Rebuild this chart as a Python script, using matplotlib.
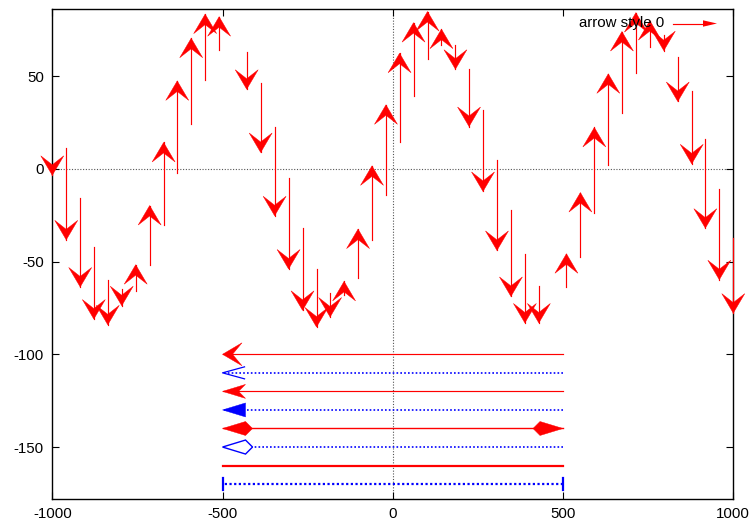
import numpy as np
import matplotlib
matplotlib.use("Agg")
import matplotlib.pyplot as plt
from matplotlib.patches import Polygon
from matplotlib.transforms import IdentityTransform

plt.rcParams["font.family"] = ["Liberation Sans", "DejaVu Sans"]
plt.rcParams["axes.unicode_minus"] = False

# vectors: x position, start (tail) and end (tip) of each arrow
x_pos = [-1000, -959, -918, -878, -837, -796, -755, -714, -673, -633,
         -592, -551, -510, -429, -388, -347, -306, -265, -224, -184,
         -143, -102, -61, -20, 20, 61, 102, 143, 184, 224,
         265, 306, 347, 388, 429, 510, 551, 592, 633, 673,
         714, 755, 796, 837, 878, 918, 959, 1000]
y_tail = [1.0, 11.2, -15.8, -41.9, -59.8, -65.0, -66.1, -51.7, -30.2, -2.0,
          24.2, 48.0, 64.1, 63.2, 46.2, 22.3, -5.0, -32.0, -53.9, -67.0,
          -67.9, -58.9, -38.6, -14.0, 14.2, 39.0, 59.1, 67.0, 66.8, 53.7,
          31.8, 4.8, -22.1, -46.0, -63.0, -63.7, -47.6, -23.9, 2.2, 30.0,
          51.9, 65.9, 72.0, 60.2, 42.2, 16.0, -10.9, -37.3]
y_tip = [-3.5, -38.3, -63.7, -81.0, -84.1, -73.8, -51.7, -19.8, 14.2, 47.4,
         70.4, 83.4, 82.0, 42.9, 8.8, -25.3, -54.0, -76.3, -85.3, -79.9,
         -60.7, -32.5, 1.6, 34.5, 62.3, 78.8, 84.8, 75.3, 53.7, 22.8,
         -12.2, -44.0, -68.8, -83.1, -83.1, -45.8, -12.8, 22.3, 51.2, 74.0,
         84.2, 79.9, 63.7, 36.3, 2.7, -32.0, -59.8, -77.8]

# the eight arrow styles drawn along the bottom
style_y = [-100, -110, -120, -130, -140, -150, -160, -170]
style_x0 = 500
style_x1 = -500

x_ticks = [-1000, -500, 0, 500, 1000]
y_ticks = [-150, -100, -50, 0, 50]

RED = "#ff0000"
BLUE = "#0000ff"


def head(ax, p0, p1, length, width, notch, **kw):
    # arrow head polygon in pixels, tip at p1
    a = ax.transData.transform(p0)
    b = ax.transData.transform(p1)
    d = b - a
    u = d / np.hypot(*d)
    n = np.array([-u[1], u[0]])
    pts = np.array([b, b - length * u + width * n, b - notch * u,
                    b - length * u - width * n])
    ax.add_patch(Polygon(pts, closed=True, transform=IdentityTransform(),
                         clip_on=False, zorder=4, **kw))


def bar(ax, p, half, **kw):
    c = ax.transData.transform(p)
    ax.plot([c[0], c[0]], [c[1] - half, c[1] + half],
            transform=IdentityTransform(), clip_on=False, zorder=4, **kw)


fig = plt.figure(figsize=(7.49, 5.22), dpi=100)
ax = fig.add_axes([0.0698, 0.0441, 0.9092, 0.9381])
ax.set_xlim(-1000, 1000)
ax.set_ylim(-178, 86)
ax.set_xticks(x_ticks)
ax.set_yticks(y_ticks)
ax.tick_params(direction="in", length=5, width=0.8, top=True, right=True,
               labelsize=10.8, pad=6)
for s in ax.spines.values():
    s.set_linewidth(1.0)

# zero axes
ax.axhline(0, color="#555555", lw=0.8, dashes=(1, 1.5), zorder=1)
ax.axvline(0, color="#555555", lw=0.8, dashes=(1, 1.5), zorder=1)

# vectors
for x, y0, y1 in zip(x_pos, y_tail, y_tip):
    ax.plot([x, x], [y0, y1], color=RED, lw=0.85, clip_on=False, zorder=3)
    head(ax, (x, y0), (x, y1), 19.5, 11.5, 10.5, facecolor=RED,
         edgecolor=RED, lw=0.3)

# arrow styles
dot = dict(color=BLUE, lw=1.2, dashes=(1, 1.3))
ys = style_y
ax.plot([style_x0, style_x1], [ys[0], ys[0]], color=RED, lw=0.85, zorder=3)
head(ax, (style_x0, ys[0]), (style_x1, ys[0]), 19.5, 11.5, 10,
     facecolor=RED, edgecolor=RED, lw=0.3)

ax.plot([style_x0, style_x1], [ys[1], ys[1]], zorder=3, **dot)
a = ax.transData.transform((style_x1, ys[1]))
ax.plot([a[0] + 22, a[0], a[0] + 22], [a[1] + 6, a[1], a[1] - 6],
        color=BLUE, lw=0.9, transform=IdentityTransform(), zorder=4)

ax.plot([style_x0, style_x1], [ys[2], ys[2]], color=RED, lw=0.85, zorder=3)
head(ax, (style_x0, ys[2]), (style_x1, ys[2]), 23, 7, 16,
     facecolor=RED, edgecolor=RED, lw=0.3)

ax.plot([style_x0, style_x1], [ys[3], ys[3]], zorder=3, **dot)
head(ax, (style_x0, ys[3]), (style_x1, ys[3]), 23, 7, 23,
     facecolor=BLUE, edgecolor=BLUE, lw=0.3)

ax.plot([style_x0, style_x1], [ys[4], ys[4]], color=RED, lw=1.0, zorder=3)
head(ax, (style_x0, ys[4]), (style_x1, ys[4]), 23, 7, 30,
     facecolor=RED, edgecolor=RED, lw=0.3)
head(ax, (style_x1, ys[4]), (style_x0, ys[4]), 23, 7, 30,
     facecolor=RED, edgecolor=RED, lw=0.3)

ax.plot([style_x0, style_x1], [ys[5], ys[5]], zorder=3, **dot)
head(ax, (style_x0, ys[5]), (style_x1, ys[5]), 23, 7, 30,
     facecolor="white", edgecolor=BLUE, lw=1.0)

ax.plot([style_x0, style_x1], [ys[6], ys[6]], color=RED, lw=1.6, zorder=3)

ax.plot([style_x0, style_x1], [ys[7], ys[7]], color=BLUE, lw=1.6,
        dashes=(1, 1.1), zorder=3)
bar(ax, (style_x0, ys[7]), 6, color=BLUE, lw=1.6)
bar(ax, (style_x1, ys[7]), 6, color=BLUE, lw=1.6)

# key
fig.text(664 / 749, 1 - 23.5 / 522, "arrow style 0", ha="right", va="center",
         fontsize=10.8, zorder=5)
k0 = np.array([673.0, 522 - 23.5])
k1 = np.array([717.0, 522 - 23.5])
fig.add_artist(plt.Line2D([k0[0], k1[0] - 10], [k0[1], k1[1]], color=RED,
                          lw=0.85, transform=IdentityTransform()))
fig.add_artist(Polygon([k1, k1 + [-14, 3.2], k1 + [-14, -3.2]], closed=True,
                       facecolor=RED, edgecolor="none",
                       transform=IdentityTransform()))

fig.savefig("out.png", dpi=100)
